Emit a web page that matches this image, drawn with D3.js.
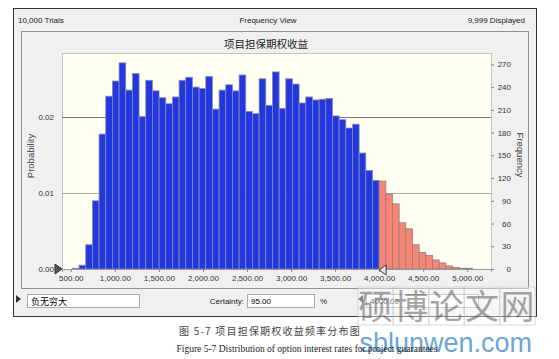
<!DOCTYPE html>
<html>
<head>
<meta charset="utf-8">
<script src="https://cdn.jsdelivr.net/npm/d3@7"></script>
<style>
  body { margin: 0; background: #fff; }
  text { font-family: "Liberation Sans", Arial, sans-serif; }
</style>
</head>
<body>
<script>
// histogram counts per bin (10,000 trials)
var freqs = [1, 5, 32, 90, 178, 228, 248, 272, 236, 258, 201, 249, 235, 226, 218,
  227, 249, 253, 240, 238, 254, 211, 236, 243, 235, 256, 208, 205, 251, 216,
  260, 212, 251, 244, 219, 227, 223, 224, 225, 202, 197, 186, 191, 153, 130,
  117, 116, 99, 86, 61, 53, 32, 22, 18, 12, 8, 4, 2, 1, 1];
var binStart = 518;
var binWidth = 75.7;
var trials = 10000;
var displayed = 9999;

var xTicks = [500, 1000, 1500, 2000, 2500, 3000, 3500, 4000, 4500, 5000];
var probTicks = [0, 0.01, 0.02];
var freqTicks = [0, 30, 60, 90, 120, 150, 180, 210, 240, 270];

var title = '项目担保期权收益';
var lowerBound = '负无穷大';
var upperBound = 4000;
var certainty = 95;

var width = 559;
var height = 359;

var svg = d3.select('body').append('svg')
  .attr('width', width)
  .attr('height', height);

// window panel
svg.append('rect')
  .attr('x', 13.5).attr('y', 8.5)
  .attr('width', 523).attr('height', 308)
  .attr('fill', '#f0f0f0')
  .attr('stroke', '#333');

svg.append('text').attr('x', 18).attr('y', 23)
  .attr('font-size', 8).attr('fill', '#222')
  .text(d3.format(',')(trials) + ' Trials');
svg.append('text').attr('x', 268).attr('y', 23)
  .attr('font-size', 8).attr('fill', '#222').attr('text-anchor', 'middle')
  .text('Frequency View');
svg.append('text').attr('x', 525).attr('y', 23)
  .attr('font-size', 8).attr('fill', '#222').attr('text-anchor', 'end')
  .text(d3.format(',')(displayed) + ' Displayed');

svg.append('rect')
  .attr('x', 21.5).attr('y', 31.5)
  .attr('width', 507).attr('height', 257)
  .attr('fill', 'none')
  .attr('stroke', '#333')
  .attr('stroke-dasharray', '1,1');

svg.append('text').attr('x', 266).attr('y', 48)
  .attr('font-size', 10.5).attr('fill', '#222').attr('text-anchor', 'middle')
  .style('font-family', '"Noto Sans CJK SC", sans-serif')
  .text(title);

// plot
var plotL = 62, plotR = 491, plotT = 53, plotB = 269;

var x = d3.scaleLinear().domain([400, 5270]).range([plotL, plotR]);
var yFreq = d3.scaleLinear().domain([0, 285]).range([plotB, plotT]);
var yProb = d3.scaleLinear().domain([0, 285 / displayed]).range([plotB, plotT]);

svg.append('rect')
  .attr('x', plotL + 0.5).attr('y', plotT + 0.5)
  .attr('width', plotR - plotL).attr('height', plotB - plotT)
  .attr('fill', '#fffff2')
  .attr('stroke', '#c4c4c4');

svg.selectAll('.grid')
  .data(probTicks.slice(1))
  .enter().append('line')
  .attr('class', 'grid')
  .attr('x1', plotL).attr('x2', plotR)
  .attr('y1', function(d) { return Math.round(yProb(d)) + 0.5; })
  .attr('y2', function(d) { return Math.round(yProb(d)) + 0.5; })
  .attr('stroke', function(d) { return d === 0.02 ? '#777' : '#aaa'; });

var bins = freqs.map(function(f, i) {
  return { x0: binStart + i * binWidth, x1: binStart + (i + 1) * binWidth, n: f };
});

svg.selectAll('.bar')
  .data(bins)
  .enter().append('rect')
  .attr('class', 'bar')
  .attr('x', function(d) { return x(d.x0); })
  .attr('width', function(d) { return x(d.x1) - x(d.x0); })
  .attr('y', function(d) { return yFreq(d.n); })
  .attr('height', function(d) { return plotB - yFreq(d.n); })
  .attr('fill', function(d) { return d.x0 >= upperBound - 1 ? '#f88474' : '#2137e0'; })
  .attr('stroke', function(d) { return d.x0 >= upperBound - 1 ? '#8c8080' : '#8a8ab0'; })
  .attr('stroke-width', 0.8);

// axes
var xAxis = svg.append('g')
  .attr('transform', 'translate(0,' + plotB + ')')
  .call(d3.axisBottom(x).tickValues(xTicks).tickFormat(d3.format(',.2f'))
    .tickSize(3).tickPadding(3));
xAxis.select('.domain').attr('stroke', '#999');
xAxis.selectAll('line').attr('stroke', '#888');
xAxis.selectAll('text').attr('font-size', 8).attr('fill', '#333')
  .style('font-family', '"Liberation Sans", Arial, sans-serif');

var yLeft = svg.append('g')
  .attr('transform', 'translate(' + plotL + ',0)')
  .call(d3.axisLeft(yProb).tickValues(probTicks).tickFormat(d3.format('.2f'))
    .tickSize(0).tickPadding(8));
yLeft.select('.domain').remove();
yLeft.selectAll('text').attr('font-size', 8).attr('fill', '#333')
  .style('font-family', '"Liberation Sans", Arial, sans-serif');

var yRight = svg.append('g')
  .attr('transform', 'translate(' + plotR + ',0)')
  .call(d3.axisRight(yFreq).tickValues(freqTicks).tickSize(3));
yRight.select('.domain').remove();
yRight.selectAll('line').attr('stroke', '#888');
yRight.selectAll('text').attr('font-size', 8).attr('fill', '#333')
  .attr('text-anchor', 'end').attr('x', 20)
  .style('font-family', '"Liberation Sans", Arial, sans-serif');

svg.append('text')
  .attr('transform', 'translate(34,156) rotate(-90)')
  .attr('font-size', 9.5).attr('fill', '#444').attr('text-anchor', 'middle')
  .text('Probability');
svg.append('text')
  .attr('transform', 'translate(517,155) rotate(90)')
  .attr('font-size', 9.5).attr('fill', '#444').attr('text-anchor', 'middle')
  .text('Frequency');

// certainty grabbers
svg.append('path')
  .attr('d', 'M' + (plotL - 7) + ',' + (plotB - 5) + 'l7,5l-7,5z')
  .attr('fill', '#555').attr('stroke', '#333');
svg.append('path')
  .attr('d', 'M' + x(upperBound) + ',' + (plotB + 1) + 'l7,-5v10z')
  .attr('fill', '#e8e8e8').attr('stroke', '#333');

// bottom control bar
svg.append('path').attr('d', 'M16,295l5,4l-5,4z').attr('fill', '#333');
svg.append('rect').attr('x', 27.5).attr('y', 294.5).attr('width', 112).attr('height', 13)
  .attr('fill', '#fff').attr('stroke', '#aaa');
svg.append('text').attr('x', 31).attr('y', 304.5).attr('font-size', 9)
  .style('font-family', '"Noto Sans CJK SC", sans-serif').text(lowerBound);

svg.append('text').attr('x', 244).attr('y', 304).attr('font-size', 8)
  .attr('text-anchor', 'end').attr('fill', '#222').text('Certainty:');
svg.append('rect').attr('x', 247.5).attr('y', 294.5).attr('width', 67).attr('height', 13)
  .attr('fill', '#fff').attr('stroke', '#aaa');
svg.append('text').attr('x', 251).attr('y', 304).attr('font-size', 8)
  .text(d3.format('.2f')(certainty));
svg.append('text').attr('x', 320).attr('y', 304).attr('font-size', 8)
  .attr('fill', '#222').text('%');

svg.append('path').attr('d', 'M358,299l5,-4v8z').attr('fill', '#333');
svg.append('rect').attr('x', 366.5).attr('y', 294.5).attr('width', 112).attr('height', 13)
  .attr('fill', '#fff').attr('stroke', '#aaa');
svg.append('text').attr('x', 370).attr('y', 304).attr('font-size', 8)
  .text(d3.format('.2f')(upperBound));

// site watermark over the bottom right
var wm = svg.append('g').attr('opacity', 0.75);
['硕', '博', '论', '文', '网'].forEach(function(c, i) {
  wm.append('rect').attr('x', 358 + i * 35.5).attr('y', 287)
    .attr('width', 35).attr('height', 38)
    .attr('fill', 'rgba(255,255,255,0.55)').attr('stroke', '#ccc');
  wm.append('text').attr('x', 375.5 + i * 35.5).attr('y', 319)
    .attr('font-size', 34).attr('text-anchor', 'middle').attr('fill', '#888')
    .style('font-family', '"Noto Sans CJK SC", sans-serif').text(c);
});
svg.append('text').attr('x', 532).attr('y', 352)
  .attr('font-size', 27).attr('text-anchor', 'end').attr('fill', '#6aa6d6')
  .style('font-family', '"Liberation Sans", Arial, sans-serif')
  .text('sblunwen.com');

// figure captions
svg.append('text').attr('x', 270).attr('y', 335)
  .attr('font-size', 10).attr('text-anchor', 'middle').attr('fill', '#444')
  .attr('letter-spacing', 1.2)
  .style('font-family', '"Noto Sans CJK SC", serif')
  .text('图 5-7 项目担保期权收益频率分布图');
svg.append('text').attr('x', 307).attr('y', 352)
  .attr('font-size', 9.5).attr('text-anchor', 'middle').attr('fill', '#222')
  .style('font-family', '"Liberation Serif", serif')
  .text('Figure 5-7 Distribution of option interest rates for project guarantees');
</script>
</body>
</html>
